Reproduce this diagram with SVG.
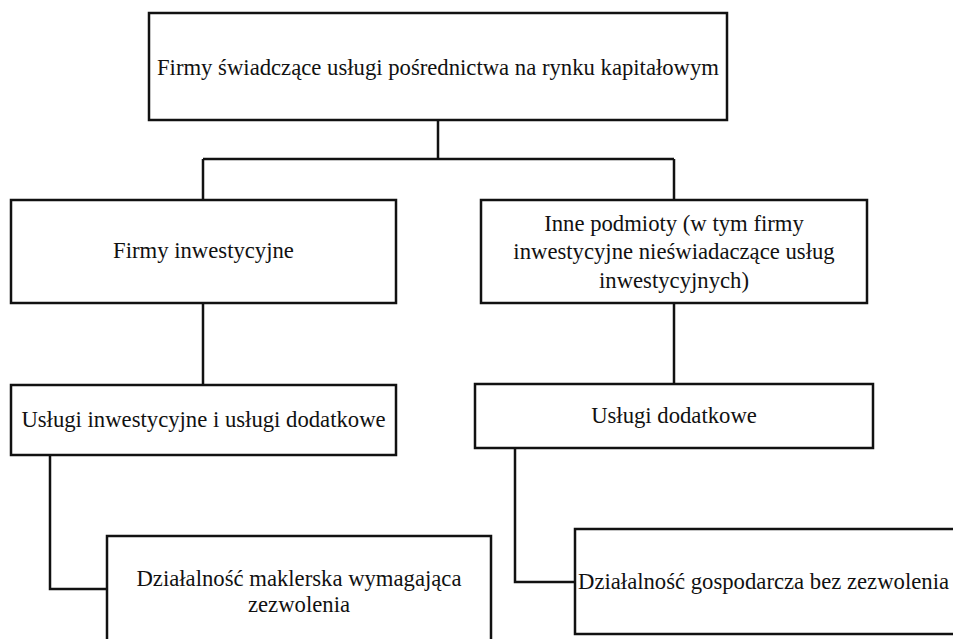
<svg xmlns="http://www.w3.org/2000/svg" width="953" height="639" viewBox="0 0 953 639">
<style>
.box{fill:#fff;stroke:#111;stroke-width:2.5}
.lbl{font-family:"Liberation Serif","DejaVu Serif",serif;font-size:22.7px;fill:#111;text-anchor:middle}
.conn{fill:none;stroke:#111;stroke-width:2.5}
</style>
<rect width="953" height="639" fill="#fff"/>
<g id="connectors">
<path class="conn" d="M438 120V159M203 159H674M203 159V200M674 159V200"/>
<path class="conn" d="M203 303V385M674 303V384"/>
<path class="conn" d="M50 455V589H107M515 448V582H575"/>
</g>
<g id="top">
<rect class="box" x="149" y="13" width="578" height="107"/>
<text class="lbl" x="438" y="75">Firmy świadczące usługi pośrednictwa na rynku kapitałowym</text>
</g>
<g id="firmy">
<rect class="box" x="11" y="200" width="385" height="103"/>
<text class="lbl" x="203.5" y="258">Firmy inwestycyjne</text>
</g>
<g id="inne">
<rect class="box" x="481" y="200" width="386" height="103"/>
<text class="lbl" x="674" y="231">Inne podmioty (w tym firmy</text>
<text class="lbl" x="674" y="259">inwestycyjne nieświadaczące usług</text>
<text class="lbl" x="674" y="288">inwestycyjnych)</text>
</g>
<g id="uslugi-inw">
<rect class="box" x="11" y="385" width="385" height="70"/>
<text class="lbl" x="203.5" y="427">Usługi inwestycyjne i usługi dodatkowe</text>
</g>
<g id="uslugi-dod">
<rect class="box" x="475" y="384" width="398" height="64"/>
<text class="lbl" x="674" y="423">Usługi dodatkowe</text>
</g>
<g id="maklerska">
<rect class="box" x="107" y="536" width="384" height="120"/>
<text class="lbl" x="299" y="586">Działalność maklerska wymagająca</text>
<text class="lbl" x="299" y="612">zezwolenia</text>
</g>
<g id="gospodarcza">
<rect class="box" x="575" y="529" width="400" height="105"/>
<text class="lbl" x="578" y="589" style="text-anchor:start">Działalność gospodarcza bez zezwolenia</text>
</g>
</svg>
